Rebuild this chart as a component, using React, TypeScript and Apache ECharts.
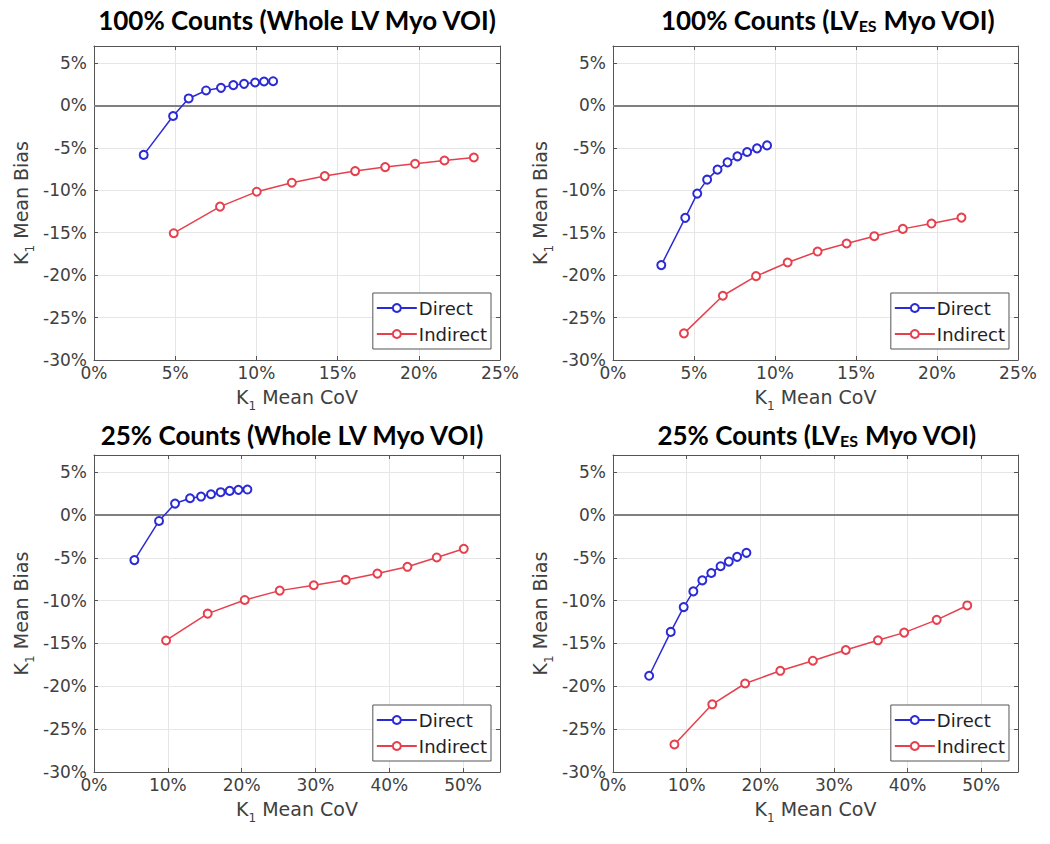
import React, { useEffect, useRef } from "react";
import * as echarts from "echarts";

// ---- Data (values in %) ----
const panelTitles = [
  "100% Counts (Whole LV Myo VOI)",
  "100% Counts (LV{s|ES} Myo VOI)",
  "25% Counts (Whole LV Myo VOI)",
  "25% Counts (LV{s|ES} Myo VOI)",
];
const seriesNames = ["Direct", "Indirect"];

const p1DirectCoV = [3.06, 4.87, 5.83, 6.9, 7.82, 8.58, 9.24, 9.92, 10.47, 11.03];
const p1DirectBias = [-5.83, -1.25, 0.82, 1.76, 2.07, 2.39, 2.54, 2.7, 2.82, 2.85];
const p1IndirectCoV = [4.91, 7.76, 10.02, 12.18, 14.21, 16.08, 17.93, 19.77, 21.58, 23.39];
const p1IndirectBias = [-15.06, -11.93, -10.17, -9.11, -8.33, -7.74, -7.27, -6.88, -6.49, -6.14];

const p2DirectCoV = [2.98, 4.46, 5.2, 5.81, 6.45, 7.07, 7.68, 8.28, 8.89, 9.51];
const p2DirectBias = [-18.82, -13.25, -10.39, -8.75, -7.57, -6.71, -6.0, -5.49, -5.06, -4.71];
const p2IndirectCoV = [4.38, 6.78, 8.83, 10.78, 12.63, 14.42, 16.13, 17.89, 19.66, 21.51];
const p2IndirectBias = [-26.86, -22.43, -20.12, -18.51, -17.22, -16.27, -15.41, -14.55, -13.92, -13.22];

const p3DirectCoV = [5.47, 8.81, 10.98, 13.01, 14.5, 15.85, 17.16, 18.38, 19.56, 20.78];
const p3DirectBias = [-5.27, -0.7, 1.33, 1.95, 2.15, 2.42, 2.66, 2.81, 2.93, 2.97];
const p3IndirectCoV = [9.76, 15.4, 20.42, 25.16, 29.77, 34.1, 38.39, 42.46, 46.43, 50.09];
const p3IndirectBias = [-14.65, -11.52, -9.92, -8.83, -8.2, -7.58, -6.84, -6.05, -4.96, -3.95];

const p4DirectCoV = [4.91, 7.84, 9.6, 10.91, 12.13, 13.35, 14.61, 15.73, 16.86, 18.12];
const p4DirectBias = [-18.77, -13.65, -10.75, -8.92, -7.63, -6.77, -5.98, -5.44, -4.89, -4.42];
const p4IndirectCoV = [8.34, 13.48, 17.94, 22.72, 27.14, 31.61, 35.98, 39.54, 43.96, 48.11];
const p4IndirectBias = [-26.79, -22.1, -19.67, -18.19, -17.01, -15.76, -14.63, -13.73, -12.24, -10.56];

const xMaxes = [25, 25, 55, 55];
const xIntervals = [5, 5, 10, 10];
const yMin = -30;
const yMax = 7;
const yInterval = 5;

// ---- Layout / style ----
const W = 1050;
const H = 844;
const grids = [
  { left: 94, top: 46, width: 406, height: 314 },
  { left: 613, top: 46, width: 405, height: 314 },
  { left: 94, top: 455, width: 406, height: 317 },
  { left: 613, top: 455, width: 405, height: 317 },
];
const titlePos = [
  [297, 20],
  [828, 20],
  [292, 435],
  [817, 435],
];
const legendPos = [
  { right: 559, top: 293 },
  { right: 41, top: 293 },
  { right: 559, top: 705 },
  { right: 41, top: 705 },
];
const BLUE = "#2b2bd6";
const RED = "#e5404d";
const AXIS = "#555555";
const TICKTEXT = "#404040";
const FONT = "DejaVu Sans";

const pad = (a: number[], b: number[]) => a.map((v, i) => [v, b[i]]);

const nameStyle = {
  color: TICKTEXT,
  fontFamily: FONT,
  fontSize: 19,
  lineHeight: 30,
  rich: { s: { fontSize: 12, lineHeight: 12, verticalAlign: "bottom", fontFamily: FONT, color: TICKTEXT } },
};

export default function App() {
  const ref = useRef<HTMLDivElement>(null);
  useEffect(() => {
    if (!ref.current) return;
    const chart = echarts.init(ref.current, undefined, { renderer: "svg" });
    const panels = [
      [p1DirectCoV, p1DirectBias, p1IndirectCoV, p1IndirectBias],
      [p2DirectCoV, p2DirectBias, p2IndirectCoV, p2IndirectBias],
      [p3DirectCoV, p3DirectBias, p3IndirectCoV, p3IndirectBias],
      [p4DirectCoV, p4DirectBias, p4IndirectCoV, p4IndirectBias],
    ];
    const xAxis: any[] = [];
    const yAxis: any[] = [];
    const series: any[] = [];
    const legend: any[] = [];
    const graphic: any[] = [];
    panels.forEach((p, i) => {
      const xBase = {
        type: "value",
        gridIndex: i,
        min: 0,
        max: xMaxes[i],
        interval: xIntervals[i],
      };
      xAxis.push({
        ...xBase,
        position: "bottom",
        axisLine: { show: true, onZero: false, lineStyle: { color: AXIS, width: 1 } },
        axisTick: { show: true, inside: true, length: 4, lineStyle: { color: AXIS } },
        axisLabel: {
          formatter: "{value}%",
          color: TICKTEXT,
          fontFamily: FONT,
          fontSize: 17,
          margin: 4,
          showMaxLabel: xMaxes[i] % xIntervals[i] === 0,
        },
        splitLine: { show: true, lineStyle: { color: "#e6e6e6", width: 1 } },
        name: "K{s|1} Mean CoV",
        nameLocation: "middle",
        nameGap: 21,
        nameTextStyle: nameStyle,
      });
      xAxis.push({
        ...xBase,
        position: "top",
        axisLine: { show: true, onZero: false, lineStyle: { color: AXIS, width: 1 } },
        axisTick: { show: true, inside: true, length: 4, lineStyle: { color: AXIS } },
        axisLabel: { show: false },
        splitLine: { show: false },
      });
      const yBase = {
        type: "value",
        gridIndex: i,
        min: yMin,
        max: yMax,
        interval: yInterval,
      };
      yAxis.push({
        ...yBase,
        position: "left",
        axisLine: { show: true, onZero: false, lineStyle: { color: AXIS, width: 1 } },
        axisTick: { show: true, inside: true, length: 4, lineStyle: { color: AXIS } },
        axisLabel: {
          formatter: "{value}%",
          color: TICKTEXT,
          fontFamily: FONT,
          fontSize: 17,
          margin: 7,
          showMaxLabel: false,
        },
        splitLine: { show: true, lineStyle: { color: "#e6e6e6", width: 1 } },
        name: "K{s|1} Mean Bias",
        nameLocation: "middle",
        nameGap: 58,
        nameTextStyle: nameStyle,
      });
      yAxis.push({
        ...yBase,
        position: "right",
        axisLine: { show: true, onZero: false, lineStyle: { color: AXIS, width: 1 } },
        axisTick: { show: true, inside: true, length: 4, lineStyle: { color: AXIS } },
        axisLabel: { show: false },
        splitLine: { show: false },
      });
      const common = {
        type: "line",
        xAxisIndex: i * 2,
        yAxisIndex: i * 2,
        symbol: "emptyCircle",
        symbolSize: 8,
        z: 5,
      };
      series.push({
        ...common,
        name: seriesNames[0],
        data: pad(p[0], p[1]),
        itemStyle: { color: BLUE, borderWidth: 1.3 },
        lineStyle: { color: BLUE, width: 1.5 },
        markLine: {
          silent: true,
          symbol: ["none", "none"],
          label: { show: false },
          lineStyle: { color: "#808080", width: 2, type: "solid" },
          data: [{ yAxis: 0 }],
          z: 1,
        },
      });
      series.push({
        ...common,
        name: seriesNames[1],
        data: pad(p[2], p[3]),
        itemStyle: { color: RED, borderWidth: 1.3 },
        lineStyle: { color: RED, width: 1.5 },
      });
      legend.push({
        ...legendPos[i],
        orient: "vertical",
        data: seriesNames,
        itemWidth: 40,
        itemHeight: 10,
        itemGap: 8,
        padding: [6, 4, 6, 3],
        borderColor: AXIS,
        borderWidth: 1,
        backgroundColor: "#ffffff",
        borderRadius: 0,
        selectedMode: false,
        textStyle: { fontFamily: FONT, fontSize: 18, color: "#222222", padding: [0, 0, 0, -3] },
      });
      graphic.push({
        type: "text",
        x: titlePos[i][0],
        y: titlePos[i][1],
        style: {
          text: panelTitles[i],
          fontFamily: "Lato",
          fontWeight: "bold",
          fontSize: 26,
          fill: "#000000",
          align: "center",
          verticalAlign: "middle",
          rich: {
            s: { fontFamily: "Lato", fontWeight: "bold", fontSize: 16, verticalAlign: "bottom", lineHeight: 14, fill: "#000" },
          },
        },
      });
    });

    chart.setOption({
      animation: false,
      backgroundColor: "#ffffff",
      grid: grids.map((g) => ({ ...g, show: false, containLabel: false })),
      xAxis,
      yAxis,
      series,
      legend,
      graphic,
    });
    return () => chart.dispose();
  }, []);
  return (
    <div
      ref={ref}
      style={{ position: "absolute", left: 0, top: 0, width: W, height: H }}
    />
  );
}
